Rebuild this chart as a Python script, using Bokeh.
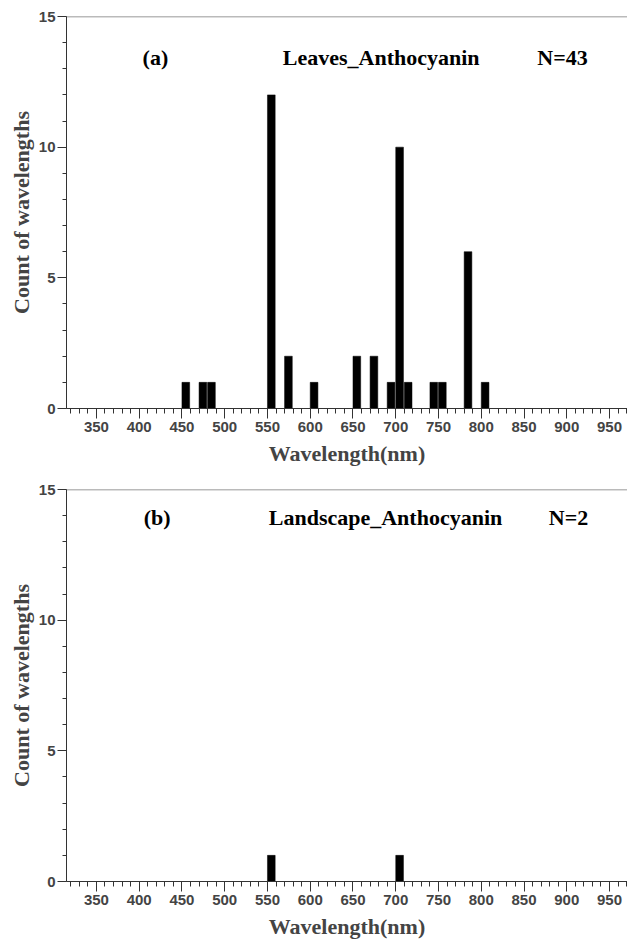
from bokeh.plotting import figure
from bokeh.layouts import column
from bokeh.models import Label, Span, FixedTicker, Range1d
from bokeh.embed import file_html
from bokeh.resources import INLINE

# Data: histogram bins (start of 10 nm bin) and counts
leaves_bins = [450, 470, 480, 550, 570, 600, 650, 670, 690, 700, 710, 740, 750, 780, 800]
leaves_counts = [1, 1, 1, 12, 2, 1, 2, 2, 1, 10, 1, 1, 1, 6, 1]
landscape_bins = [550, 700]
landscape_counts = [1, 1]
bin_width = 10
x_ticks = [350, 400, 450, 500, 550, 600, 650, 700, 750, 800, 850, 900, 950]
y_ticks = [0, 5, 10, 15]

SERIF = "Liberation Serif"
SANS = "Liberation Sans"


def make_panel(bins, counts, labels, height, top_border, bottom_border, tag_y):
    p = figure(width=627, height=height, output_backend="svg", toolbar_location=None,
               x_range=Range1d(315, 971), y_range=Range1d(0, 15),
               min_border_left=66, min_border_right=0, min_border_top=top_border,
               min_border_bottom=bottom_border)
    p.outline_line_color = None
    p.xgrid.grid_line_color = None
    p.ygrid.grid_line_color = None
    p.background_fill_color = "white"

    centers = [b + 0.45 * bin_width for b in bins]
    p.vbar(x=centers, top=counts, width=0.9 * bin_width, bottom=0,
           fill_color="black", line_color="black", line_width=0.5)

    # top border line
    p.add_layout(Span(location=15, dimension="width", line_color="#777777", line_width=1.5))

    xa = p.xaxis[0]
    xa.ticker = FixedTicker(ticks=x_ticks, minor_ticks=list(range(320, 980, 10)))
    xa.axis_label = "Wavelength(nm)"
    xa.axis_label_text_font = SERIF
    xa.axis_label_text_font_style = "bold"
    xa.axis_label_text_font_size = "22px"
    xa.axis_label_standoff = 6
    xa.major_label_text_font = SANS
    xa.major_label_text_font_style = "bold"
    xa.major_label_text_font_size = "15px"
    xa.major_label_standoff = 3
    xa.major_tick_in = 0
    xa.major_tick_out = 10
    xa.minor_tick_in = 0
    xa.minor_tick_out = 5
    xa.axis_line_color = "#333333"
    xa.major_tick_line_color = "#333333"
    xa.minor_tick_line_color = "#333333"

    ya = p.yaxis[0]
    ya.ticker = FixedTicker(ticks=y_ticks, minor_ticks=list(range(0, 16)))
    ya.axis_label = "Count of wavelengths"
    ya.axis_label_text_font = SERIF
    ya.axis_label_text_font_style = "bold"
    ya.axis_label_text_font_size = "22px"
    ya.axis_label_standoff = 2
    ya.major_label_text_font = SANS
    ya.major_label_text_font_style = "bold"
    ya.major_label_text_font_size = "15px"
    ya.major_label_standoff = 2
    ya.major_tick_in = 0
    ya.major_tick_out = 9
    ya.minor_tick_in = 0
    ya.minor_tick_out = 4
    ya.axis_line_color = "#333333"
    ya.major_tick_line_color = "#333333"
    ya.minor_tick_line_color = "#333333"

    for txt, x in labels:
        p.add_layout(Label(x=x, y=tag_y, text=txt, text_align="center", text_baseline="middle",
                           text_font=SERIF, text_font_style="bold", text_font_size="22px",
                           text_color="black"))
    return p


p1 = make_panel(leaves_bins, leaves_counts,
                [("(a)", 419), ("Leaves_Anthocyanin", 683), ("N=43", 895)],
                height=480, top_border=16, bottom_border=72, tag_y=13.43)
p2 = make_panel(landscape_bins, landscape_counts,
                [("(b)", 421), ("Landscape_Anthocyanin", 688), ("N=2", 902)],
                height=461, top_border=9, bottom_border=60, tag_y=13.93)

layout = column(p1, p2, spacing=0)
open("out.html", "w").write(file_html(layout, INLINE))
